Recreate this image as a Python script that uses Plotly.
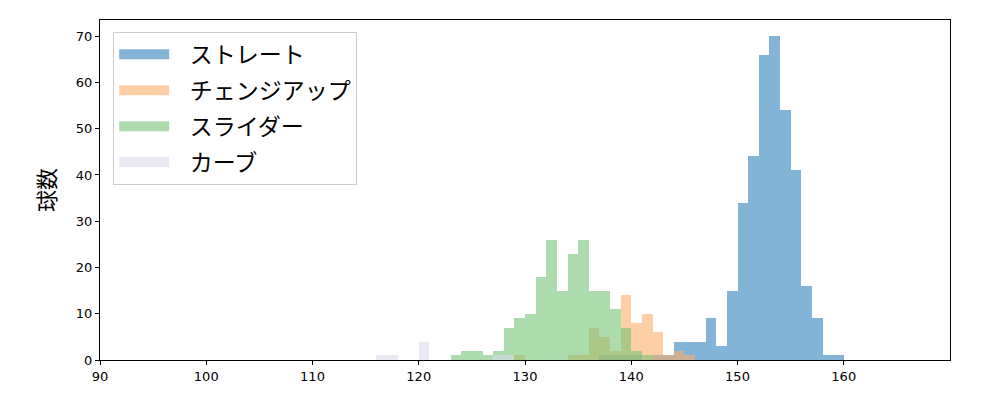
import plotly.graph_objects as go

# bin left edges (km/h) and counts per pitch type
straight_left = [137, 138, 139, 140, 142, 143, 144, 145, 146, 147, 148, 149, 150,
                 151, 152, 153, 154, 155, 156, 157, 158, 159]
straight_cnt = [1, 1, 1, 1, 1, 1, 4, 4, 4, 9, 3, 15, 34, 44, 66, 70, 54, 41, 16, 9, 1, 1]

changeup_left = [129, 134, 135, 136, 137, 138, 139, 140, 141, 142, 143, 144, 145]
changeup_cnt = [1, 1, 1, 7, 5, 2, 14, 8, 10, 6, 1, 2, 1]

slider_left = [123, 124, 125, 126, 127, 128, 129, 130, 131, 132, 133, 134, 135,
               136, 137, 138, 139, 140, 141]
slider_cnt = [1, 2, 2, 1, 2, 7, 9, 10, 18, 26, 15, 23, 26, 15, 15, 11, 7, 2, 1]

curve_left = [116, 117, 120, 127, 128]
curve_cnt = [1, 1, 4, 1, 1]

names = ["ストレート", "チェンジアップ", "スライダー", "カーブ"]
colors = ["#3182bd", "#fdae6b", "#74c476", "#dadaeb"]
series = [(straight_left, straight_cnt), (changeup_left, changeup_cnt),
          (slider_left, slider_cnt), (curve_left, curve_cnt)]

x_ticks = [90, 100, 110, 120, 130, 140, 150, 160]
y_ticks = [0, 10, 20, 30, 40, 50, 60, 70]
BIN_W = 1.0

fig = go.Figure()
for name, color, (left, cnt) in zip(names, colors, series):
    fig.add_trace(go.Bar(
        x=[l + BIN_W / 2 for l in left], y=cnt, width=BIN_W,
        marker=dict(color=color, opacity=0.6, line=dict(width=0)),
        name=name, showlegend=False, hoverinfo="x+y",
    ))
# legend entries (wide patches like matplotlib)
PAD = "\u00a0\u00a0\u00a0"
for i, (name, color) in enumerate(zip(names, colors)):
    fig.add_trace(go.Scatter(
        x=[None], y=[None], mode="lines", name=PAD + name,
        line=dict(color=color, width=17), opacity=0.6,
        legendgroup=f"g{i}",
    ))

jp = "Noto Sans CJK JP"
fig.update_layout(
    width=1000, height=400,
    margin=dict(l=100, r=50, t=20, b=40),
    barmode="overlay", bargap=0,
    plot_bgcolor="white", paper_bgcolor="white",
    font=dict(family=jp, color="black", size=13),
    legend=dict(
        x=0.0155, y=0.965, xanchor="left", yanchor="top",
        bgcolor="white", bordercolor="#cccccc", borderwidth=1,
        font=dict(family=jp, size=23), itemwidth=50,
        tracegroupgap=3,
    ),
    xaxis=dict(
        range=[90, 170], tickvals=x_ticks, ticks="outside", ticklen=4,
        tickcolor="black", showline=True, linecolor="black", linewidth=1,
        mirror=True, showgrid=False, zeroline=False,
        tickfont=dict(family="DejaVu Sans", size=13),
    ),
    yaxis=dict(
        range=[0, 73.5], tickvals=y_ticks, ticks="outside", ticklen=4,
        tickcolor="black", showline=True, linecolor="black", linewidth=1,
        mirror=True, showgrid=False, zeroline=False,
        tickfont=dict(family="DejaVu Sans", size=13),
        title=dict(text="球数", font=dict(family=jp, size=22), standoff=14),
    ),
)

fig.write_html("out.html", config={"displayModeBar": False},
               post_script="document.body.style.margin='0';")
